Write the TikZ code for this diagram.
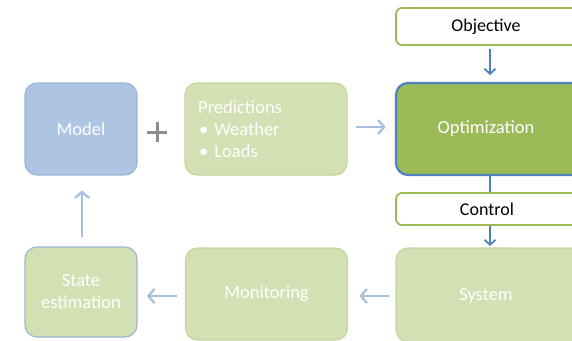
\documentclass[tikz,border=0pt]{standalone}
\usepackage{fontspec}
\setmainfont{Carlito}
\usetikzlibrary{arrows.meta}
\definecolor{blueFill}{HTML}{ADC4E2}
\definecolor{blueEdge}{HTML}{9DB5D6}
\definecolor{paleGreen}{HTML}{D2E0B3}
\definecolor{paleEdge}{HTML}{C4D6A0}
\definecolor{optGreen}{HTML}{9BBB59}
\definecolor{darkBlue}{HTML}{4F81BD}
\definecolor{lightArrow}{HTML}{A8C0E0}
\definecolor{plusGray}{HTML}{8C8C8C}
\tikzset{
  bigbox/.style={rounded corners=12pt, line width=1.2pt, inner sep=0pt,
    font=\fontsize{18.5}{22}\selectfont, text=white, align=center},
  tagbox/.style={rounded corners=6pt, draw=optGreen, line width=1.8pt, fill=white,
    inner sep=0pt, text=black},
  boxtext/.style={text=white, font=\fontsize{18.5}{22}\selectfont, inner sep=0pt},
  tagtext/.style={font=\fontsize{18}{20}\selectfont, inner sep=0pt},
  softarrow/.style={draw=lightArrow, line width=2.6pt,
    -{Straight Barb[length=6pt, width=14pt, line width=2.3pt]}},
  hardarrow/.style={draw=darkBlue, line width=1.8pt,
    -{Straight Barb[length=5pt, width=11pt, line width=1.8pt]}},
}
\newcommand{\bulletitem}[1]{\hspace{1pt}•\hspace{6pt}#1}
\begin{document}
\begin{tikzpicture}[x=1pt, y=-1pt]
\useasboundingbox (0,0) rectangle (572,340);
\clip (0,0) rectangle (572,340);

% top row
\node[bigbox, fill=blueFill, draw=blueEdge, minimum width=112pt, minimum height=92pt]
  (model) at (81,129) {Model};
\node[bigbox, fill=paleGreen, draw=paleEdge, minimum width=162pt, minimum height=92pt]
  (pred) at (266,129) {};
\node[anchor=west, text=white, align=left, inner sep=0pt,
  font=\fontsize{18.5}{22}\selectfont] (predtext) at (198,129)
  {Predictions\\\bulletitem{Weather}\\\bulletitem{Loads}};
\node[bigbox, fill=optGreen, draw=darkBlue, line width=2.2pt,
  minimum width=188pt, minimum height=92pt] (opt) at (490,129) {};
\node[boxtext] (optlabel) at (486,129) {Optimization};

% plus sign between model and predictions
\node[inner sep=0pt] (plus) at (157,132)
  {\tikz[x=1pt,y=1pt]{\draw[plusGray, line width=3pt] (-10,0) -- (10,0) (0,-10) -- (0,10);}};

% objective and control tags
\node[tagbox, minimum width=188pt, minimum height=37pt] (obj) at (490,26.5) {};
\node[tagtext] (objlabel) at (486,26.5) {Objective};
\node[tagbox, minimum width=188pt, minimum height=32pt] (ctrl) at (490,209) {};
\node[tagtext] (ctrllabel) at (487,209) {Control};

% bottom row
\node[bigbox, fill=paleGreen, draw=paleEdge, minimum width=188pt, minimum height=94pt]
  (sys) at (490,295) {};
\node[boxtext] (syslabel) at (486,296) {System};
\node[bigbox, fill=paleGreen, draw=paleEdge, minimum width=162pt, minimum height=92pt]
  (mon) at (266.5,294) {Monitoring};
\node[bigbox, fill=paleGreen, draw=blueEdge, minimum width=112pt, minimum height=90pt,
  font=\fontsize{18.5}{22}\selectfont] (est) at (81,292) {State\\estimation};

% connectors
\draw[softarrow] (pred.east) ++(8,-2) coordinate (pa) -- ++(30,0) coordinate (pb);
\draw[hardarrow] (obj.south) ++(0,3) -- (490,75);
\draw[draw=darkBlue, line width=1.8pt] (opt.south) -- (ctrl.north);
\draw[hardarrow] (ctrl.south) -- (490,246);
\draw[softarrow] (sys.west) ++(-6,1) -- ++(-30,0);
\draw[softarrow] (mon.west) ++(-8,2) -- ++(-30,0);
\draw[softarrow] (est.north) ++(1,-9) -- ++(0,-47);
\end{tikzpicture}
\end{document}
